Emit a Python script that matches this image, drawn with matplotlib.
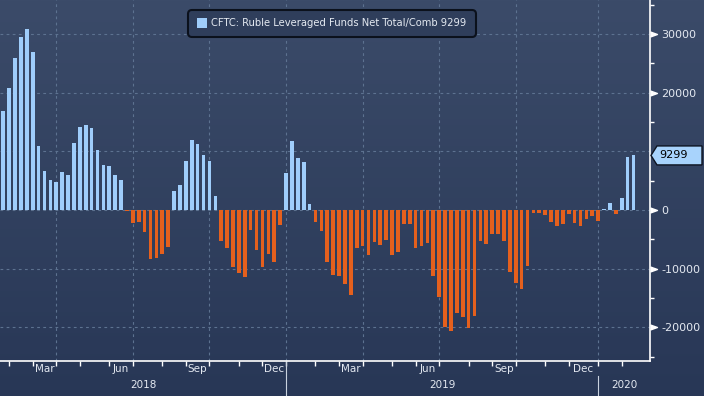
import numpy as np
import pandas as pd
import matplotlib
matplotlib.use("Agg")
import matplotlib.pyplot as plt
from matplotlib.patches import Polygon, FancyBboxPatch, Rectangle
from matplotlib.lines import Line2D
from matplotlib.transforms import Affine2D

# ---------------- data ----------------
start_date = "2018-01-30"
values = [
    16900, 20760, 25870, 29500, 30800, 26890, 10890, 6640, 5100, 4760,
    6470, 5960, 11400, 14120, 14460, 13950, 10210, 7660, 7500, 6000,
    5140, -200, -2170, -2000, -3710, -8400, -8170, -7540, -6290, 3240,
    4270, 8350, 11900, 11250, 9380, 8350, 2390, -5230, -6420, -9660,
    -10680, -11360, -3350, -6760, -9660, -7440, -8810, -2500, 6360, 11760,
    8860, 8180, 1020, -1990, -3520, -8890, -11110, -11280, -12650, -14530,
    -6440, -6100, -7630, -5470, -5930, -5070, -7630, -7180, -2340, -2340,
    -6440, -6100, -5580, -11280, -14820, -19940, -20630, -17550, -18230, -20110,
    -18060, -5240, -5750, -4050, -4050, -5240, -10540, -12420, -13450, -9570,
    -450, -450, -850, -2030, -2730, -2360, -650, -2190, -2730, -1530,
    -1000, -1875, 170, 1190, -650, 2050, 9000, 9299,
]
dates = pd.date_range(start_date, periods=len(values), freq="7D")
series_label = "CFTC: Ruble Leveraged Funds Net Total/Comb 9299"
last_value = 9299
ytick_vals = [30000, 20000, 0, -10000, -20000]
ytick_labels = ["30000", "20000", "0", "-10000", "-20000"]
yminor_vals = [35000, 25000, 15000, 5000, -5000, -15000, -25000]
label_months = {3: "Mar", 6: "Jun", 9: "Sep", 12: "Dec"}

# ---------------- style ----------------
W, H = 704, 396
BLUE = "#9fcdfb"
ORANGE = "#e5601d"
GRID = "#5d7290"
TXT = "#e4e9f1"

fig = plt.figure(figsize=(W / 100, H / 100), dpi=100)
# pixel transform, origin top-left
T = Affine2D().scale(1 / 100, -1 / 100).translate(0, H / 100) + fig.dpi_scale_trans

bg = fig.add_axes([0, 0, 1, 1], zorder=0)
g = np.linspace(0, 1, 256)[:, None, None]
top = np.array([0x3b, 0x4b, 0x69]) / 255
bot = np.array([0x28, 0x37, 0x56]) / 255
img = top[None, None, :] * (1 - g) + bot[None, None, :] * g
bg.imshow(img, aspect="auto", extent=[0, 1, 0, 1])
bg.axis("off")

ax = fig.add_axes([0, 35 / H, 650 / W, 361 / H], zorder=1)
ax.patch.set_visible(False)

x = np.arange(len(values))
colors = [BLUE if v >= 0 else ORANGE for v in values]
ax.bar(x, values, width=0.62, color=colors, zorder=3, linewidth=0)
ax.set_xlim(-0.56, 109.8)
ax.set_ylim(-25750, 35800)

# month structure from dates
month_starts = [i for i in range(1, len(dates)) if dates[i].month != dates[i - 1].month]
quarter_starts = [i for i in month_starts if dates[i].month in (1, 4, 7, 10)]
year_starts = [i for i in month_starts if dates[i].month == 1]

for v in ytick_vals + [10000]:
    ax.axhline(v, color=GRID, lw=0.8, ls=(0, (2.5, 3)), zorder=1)
for q in quarter_starts:
    ax.axvline(q, color=GRID, lw=0.8, ls=(0, (2.5, 3)), zorder=1)

for s in ["top", "left"]:
    ax.spines[s].set_visible(False)
for s in ["right", "bottom"]:
    ax.spines[s].set_color("white")
    ax.spines[s].set_linewidth(1.2)

ax.set_xticks(month_starts)
ax.set_xticklabels([])
ax.tick_params(axis="x", which="major", length=3.5, width=1, color="white", direction="out")

ax.yaxis.tick_right()
ax.set_yticks(ytick_vals)
ax.set_yticklabels(ytick_labels)
ax.set_yticks(yminor_vals, minor=True)
ax.tick_params(axis="y", which="major", length=0, pad=8, labelsize=8, labelcolor=TXT)
ax.tick_params(axis="y", which="minor", length=3, width=1, color="white", direction="out")

tri = [(0, 0.36), (1, 0), (0, -0.36)]
ax.plot([1.0] * len(ytick_vals), ytick_vals, ls="none", marker=tri, ms=10,
        color="white", transform=ax.get_yaxis_transform(), clip_on=False, zorder=6)

# month labels
xt = ax.get_xaxis_transform()
for k, i in enumerate(month_starts):
    m = dates[i].month
    if m in label_months and k + 1 < len(month_starts):
        c = (i + month_starts[k + 1]) / 2
        ax.text(c, -8.5 / 361, label_months[m], transform=xt, ha="center", va="center",
                fontsize=7.5, color=TXT)

# year labels + separators
xl0, xl1 = ax.get_xlim()
bounds = [xl0] + year_starts + [xl1]
first_year = dates[0].year
for k in range(len(bounds) - 1):
    c = (bounds[k] + bounds[k + 1]) / 2
    ax.text(c, -24.5 / 361, str(first_year + k), transform=xt, ha="center", va="center",
            fontsize=7.5, color=TXT)
for k, ys in enumerate(year_starts):
    y0 = -1 / 361 if k == 0 else -15 / 361
    ax.add_line(Line2D([ys, ys], [y0, -35 / 361], transform=xt, color="#c9d2df",
                       lw=0.8, clip_on=False))

# legend box
fig.patches.append(FancyBboxPatch((188, 10), 288, 27, boxstyle="round,pad=0,rounding_size=4",
                                  transform=T, facecolor="#2f3e5b", edgecolor="#0b111c",
                                  lw=1.5, zorder=10))
fig.patches.append(Rectangle((197, 18), 10, 10, transform=T, facecolor=BLUE,
                             edgecolor="none", zorder=11))
fig.text(211, 23.5, series_label, transform=T, ha="left", va="center", fontsize=7.2,
         color=TXT, zorder=12)

# last value tag
disp = ax.transData.transform((0, last_value))
py = H - disp[1] * 100 / fig.dpi
tag = [(651, py), (657, py - 9.5), (702, py - 9.5), (702, py + 9.5), (657, py + 9.5)]
fig.patches.append(Polygon(tag, closed=True, transform=T, facecolor="#a8d3fc",
                           edgecolor="#0d1320", lw=1, zorder=10))
fig.text(659, py, str(last_value), transform=T, ha="left", va="center", fontsize=8,
         color="black", zorder=12)

fig.savefig("out.png", dpi=100)
